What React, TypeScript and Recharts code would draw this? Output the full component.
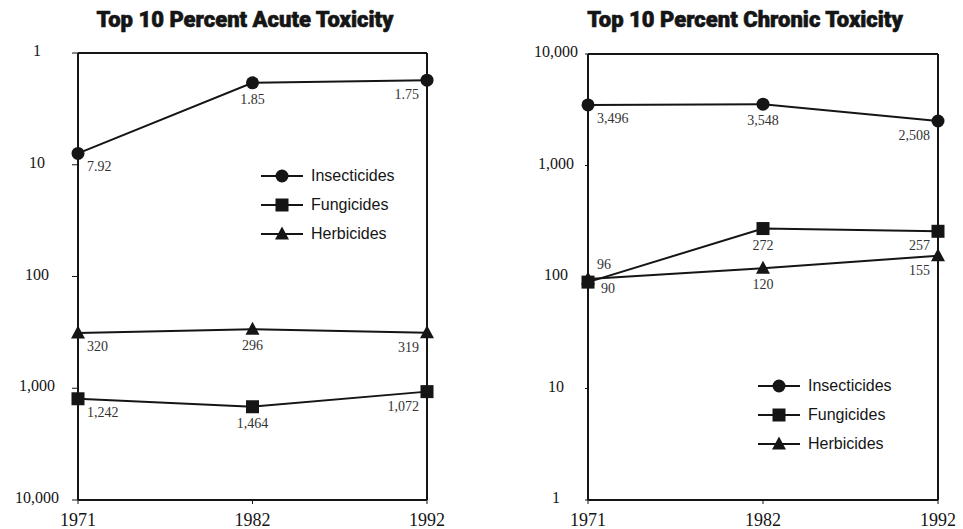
import React from 'react';
import { LineChart, Line, XAxis, YAxis, ReferenceLine, LabelList, Legend } from 'recharts';

const years = ['1971', '1982', '1992'];
const seriesNames = ['Insecticides', 'Fungicides', 'Herbicides'];
const logTicks = [1, 10, 100, 1000, 10000];

const acuteInsecticides = [7.92, 1.85, 1.75];
const acuteFungicides = [1242, 1464, 1072];
const acuteHerbicides = [320, 296, 319];

const chronicInsecticides = [3496, 3548, 2508];
const chronicFungicides = [90, 272, 257];
const chronicHerbicides = [96, 120, 155];

const acuteData = years.map((year, i) => ({
  year,
  ins: acuteInsecticides[i],
  fun: acuteFungicides[i],
  herb: acuteHerbicides[i],
}));

const chronicData = years.map((year, i) => ({
  year,
  ins: chronicInsecticides[i],
  fun: chronicFungicides[i],
  herb: chronicHerbicides[i],
}));

const INK = '#151515';
const SERIF = '"Liberation Serif", "Times New Roman", serif';
const SANS = '"Liberation Sans", Arial, sans-serif';
const shapes = ['circle', 'square', 'triangle'];

const fmt = (v: number) => v.toLocaleString('en-US');

function Marker({ shape, cx, cy }: { shape: string; cx: number; cy: number }) {
  if (shape === 'circle') return <circle cx={cx} cy={cy} r={6.5} fill={INK} />;
  if (shape === 'square') return <rect x={cx - 6.5} y={cy - 6.5} width={13} height={13} fill={INK} />;
  return <polygon points={`${cx},${cy - 7.5} ${cx + 7},${cy + 5.5} ${cx - 7},${cy + 5.5}`} fill={INK} />;
}

const dotOf = (shape: string) => (p: any) => (
  <Marker key={`${shape}-${p.index}`} shape={shape} cx={p.cx} cy={p.cy} />
);

type Place = { dx: number; dy: number; anchor: 'start' | 'middle' | 'end' };
const usual: Place[] = [
  { dx: 9, dy: 18, anchor: 'start' },
  { dx: 0, dy: 21, anchor: 'middle' },
  { dx: -8, dy: 19, anchor: 'end' },
];
const fungFirst: Place[] = [{ dx: 13, dy: 11, anchor: 'start' }, usual[1], usual[2]];
const herbFirst: Place[] = [{ dx: 9, dy: -10, anchor: 'start' }, usual[1], usual[2]];

const labelOf = (places: Place[]) => (p: any) => {
  const pl = places[p.index];
  return (
    <text
      key={p.index}
      x={Number(p.x) + pl.dx}
      y={Number(p.y) + pl.dy}
      textAnchor={pl.anchor}
      fontFamily={SERIF}
      fontSize={14}
      fill="#333"
    >
      {fmt(Number(p.value))}
    </text>
  );
};

function LegendBox() {
  return (
    <div style={{ fontFamily: SANS, fontSize: 16, color: INK }}>
      {seriesNames.map((name, i) => (
        <div key={name} style={{ display: 'flex', alignItems: 'center', height: 29 }}>
          <svg width={42} height={20}>
            <line x1={0} y1={10} x2={42} y2={10} stroke={INK} strokeWidth={2} />
            <Marker shape={shapes[i]} cx={21} cy={10} />
          </svg>
          <span style={{ marginLeft: 8 }}>{name}</span>
        </div>
      ))}
    </div>
  );
}

const yTick = (shift: number) => (p: any) => (
  <text
    x={p.x - shift}
    y={p.y}
    dy="0.2em"
    textAnchor="middle"
    fontFamily={SERIF}
    fontSize={16}
    fill={INK}
  >
    {fmt(p.payload.value)}
  </text>
);

const xTick = (p: any) => (
  <text x={p.x} y={p.y} dy="0.71em" textAnchor="middle" fontFamily={SERIF} fontSize={18} fill={INK}>
    {p.payload.value}
  </text>
);

interface PanelProps {
  title: string;
  data: any[];
  reversed: boolean;
  left: number;
  width: number;
  margin: { top: number; right: number; bottom: number; left: number };
  tickShift: number;
  tickSize: number;
  titleCenter: number;
  legendPos: { left: number; top: number };
  places: Place[][];
}

function Panel(props: PanelProps) {
  const { title, data, reversed, left, width, margin, tickShift, tickSize, titleCenter, legendPos, places } = props;
  const topValue = reversed ? 1 : 10000;
  return (
    <div style={{ position: 'absolute', left, top: 0, width, height: 529 }}>
      <div
        style={{
          position: 'absolute',
          left: titleCenter - 200,
          top: 7,
          width: 400,
          textAlign: 'center',
          fontFamily: 'Roboto, "Liberation Sans", sans-serif',
          fontWeight: 900,
          fontSize: 22,
          lineHeight: '26px',
          WebkitTextStroke: '0.6px ' + INK,
          color: INK,
          zIndex: 2,
        }}
      >
        {title}
      </div>
      <LineChart width={width} height={529} data={data} margin={margin}>
        <XAxis
          dataKey="year"
          height={29}
          axisLine={{ stroke: INK, strokeWidth: 2 }}
          tickLine={{ stroke: INK }}
          tickSize={4}
          tickMargin={9}
          tick={xTick}
        />
        <YAxis
          type="number"
          scale="log"
          domain={[1, 10000]}
          ticks={logTicks}
          reversed={reversed}
          allowDataOverflow
          width={60}
          axisLine={{ stroke: INK, strokeWidth: 2 }}
          tickLine={{ stroke: INK }}
          tickSize={tickSize}
          tickMargin={2}
          tick={yTick(tickShift)}
        />
        <ReferenceLine y={topValue} stroke={INK} strokeWidth={2} />
        <ReferenceLine x="1992" stroke={INK} strokeWidth={2} />
        <Legend
          layout="vertical"
          align="center"
          verticalAlign="middle"
          content={() => <LegendBox />}
          wrapperStyle={{ left: legendPos.left, top: legendPos.top, width: 180 }}
        />
        <Line dataKey="ins" stroke={INK} strokeWidth={2} dot={dotOf('circle')} isAnimationActive={false}>
          <LabelList dataKey="ins" content={labelOf(places[0])} />
        </Line>
        <Line dataKey="fun" stroke={INK} strokeWidth={2} dot={dotOf('square')} isAnimationActive={false}>
          <LabelList dataKey="fun" content={labelOf(places[1])} />
        </Line>
        <Line dataKey="herb" stroke={INK} strokeWidth={2} dot={dotOf('triangle')} isAnimationActive={false}>
          <LabelList dataKey="herb" content={labelOf(places[2])} />
        </Line>
      </LineChart>
    </div>
  );
}

export default function App() {
  return (
    <div style={{ position: 'absolute', left: 0, top: 0, width: 963, height: 529, background: '#fff' }}>
      <Panel
        title="Top 10 Percent Acute Toxicity"
        data={acuteData}
        reversed
        left={0}
        width={480}
        margin={{ top: 53, right: 53, bottom: 0, left: 18 }}
        tickShift={33}
        tickSize={6}
        titleCenter={245}
        legendPos={{ left: 261, top: 161 }}
        places={[usual, usual, usual]}
      />
      <Panel
        title="Top 10 Percent Chronic Toxicity"
        data={chronicData}
        reversed={false}
        left={480}
        width={483}
        margin={{ top: 54, right: 25, bottom: 0, left: 48 }}
        tickShift={27}
        tickSize={3}
        titleCenter={265}
        legendPos={{ left: 278, top: 371 }}
        places={[usual, fungFirst, herbFirst]}
      />
    </div>
  );
}
